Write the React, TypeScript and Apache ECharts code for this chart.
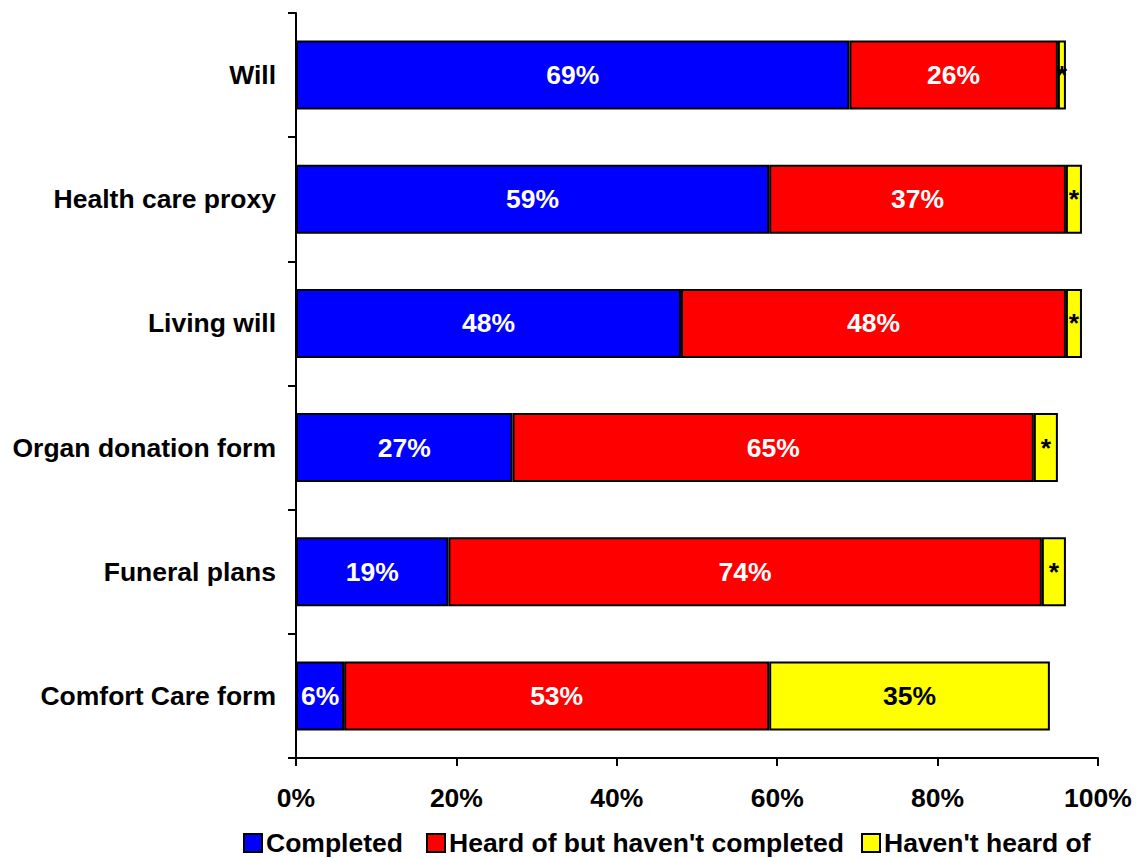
import React, { useEffect, useRef } from "react";
import * as echarts from "echarts";

const categories = [
  "Comfort Care form",
  "Funeral plans",
  "Organ donation form",
  "Living will",
  "Health care proxy",
  "Will",
];
const completed = [6, 19, 27, 48, 59, 69];
const heardNotCompleted = [53, 74, 65, 48, 37, 26];
const notHeard = [35, 3, 3, 2, 2, 1];
const seriesNames = ["Completed", "Heard of but haven't completed", "Haven't heard of"];
const xTicks = [0, 20, 40, 60, 80, 100];

const FONT = "'Liberation Sans', Arial, sans-serif";
const FS = 26.5;

export default function App() {
  const ref = useRef<HTMLDivElement>(null);
  useEffect(() => {
    if (!ref.current) return;
    const chart = echarts.init(ref.current, undefined, { renderer: "svg" });
    const mk = (name: string, data: number[], color: string, labelColor: string) => ({
      name,
      type: "bar",
      stack: "total",
      data,
      barWidth: 69,
      itemStyle: { color, borderColor: "#000", borderWidth: 2 },
      label: {
        show: true,
        position: "inside",
        color: labelColor,
        fontFamily: FONT,
        fontWeight: "bold",
        fontSize: FS,
        formatter: (p: any) => (p.value < 5 ? "*" : p.value + "%"),
      },
    });
    const legendLefts = [243, 426, 861];
    const legends = seriesNames.map((n, i) => ({
      data: [n],
      left: legendLefts[i],
      top: 828,
      padding: 0,
      itemWidth: 18,
      itemHeight: 18,
      icon: "rect",
      itemStyle: { borderColor: "#000", borderWidth: 2 },
      textStyle: {
        fontFamily: FONT,
        fontWeight: "bold",
        fontSize: FS,
        lineHeight: 30,
        color: "#000",
        padding: [0, 0, 0, -1],
      },
    }));
    chart.setOption({
      animation: false,
      textStyle: { fontFamily: FONT },
      grid: { left: 296, right: 40, top: 13, bottom: 100, containLabel: false },
      legend: legends,
      xAxis: {
        type: "value",
        min: 0,
        max: 100,
        interval: 20,
        splitLine: { show: false },
        axisLine: { show: true, lineStyle: { color: "#000", width: 2 } },
        axisTick: { show: true, length: 8, lineStyle: { color: "#000", width: 2 } },
        axisLabel: {
          margin: 26,
          color: "#000",
          fontFamily: FONT,
          fontWeight: "bold",
          fontSize: FS,
          formatter: (v: number) => (xTicks.includes(v) ? v + "%" : ""),
        },
      },
      yAxis: {
        type: "category",
        data: categories,
        axisLine: { show: true, lineStyle: { color: "#000", width: 2 } },
        axisTick: { show: true, length: 8, alignWithLabel: false, lineStyle: { color: "#000", width: 2 } },
        axisLabel: {
          margin: 20,
          color: "#000",
          fontFamily: FONT,
          fontWeight: "bold",
          fontSize: FS,
        },
      },
      series: [
        mk(seriesNames[0], completed, "#0000FF", "#FFFFFF"),
        mk(seriesNames[1], heardNotCompleted, "#FF0000", "#FFFFFF"),
        mk(seriesNames[2], notHeard, "#FFFF00", "#000000"),
      ],
    });
    return () => chart.dispose();
  }, []);
  return (
    <div
      ref={ref}
      style={{ position: "absolute", left: 0, top: 0, width: 1138, height: 858, background: "#fff" }}
    />
  );
}
